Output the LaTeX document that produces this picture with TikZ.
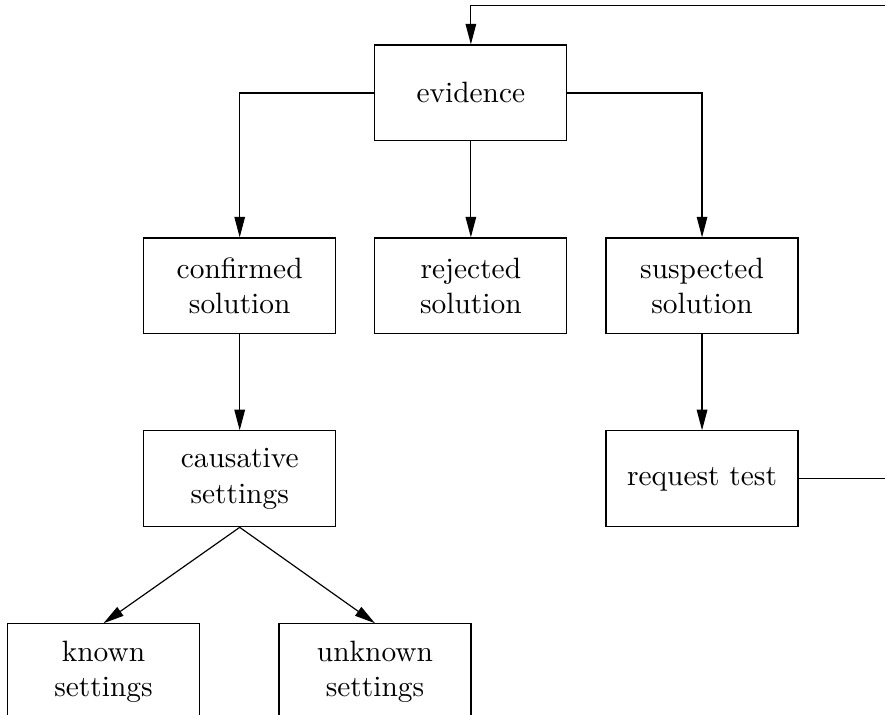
\documentclass[tikz,border=0pt]{standalone}
\usepackage{amsmath, amssymb}
\usepackage{tikz}
\usetikzlibrary{arrows.meta}
\usetikzlibrary{positioning}

\begin{document}
\begin{tikzpicture}[
    box/.style={draw, minimum width=65.3pt, minimum height=32.6pt, align=center, inner sep=2pt},
    arr/.style={-{Triangle[length=7pt,width=3.6pt]}},
    node distance=32.6pt and 12.9pt]
  \clip (-160.1pt,-211.5pt) rectangle (140.8pt,31.6pt);
  \node [box] (ievid) at (0,0) {evidence};
  \node [box] (irej) [below=of ievid] {rejected\\solution};
  \node [box] (iconf) [left=of irej] {confirmed\\solution};
  \node [box] (isusp) [right=of irej] {suspected\\solution};
  \node [box] (icaus) [below=of iconf] {causative\\settings};
  \node [box] (ireq) [below=of isusp] {request test};
  \node [box] (iknown) [below left=32.6pt and -19.4pt of icaus] {known\\settings};
  \node [box] (iunknown) [below right=32.6pt and -19.7pt of icaus] {unknown\\settings};
  \coordinate [right=40pt of ireq] (iturn);
  \coordinate [above=13.3pt of ievid.north] (itop);

  \draw [arr] (ievid) -| (iconf);
  \draw [arr] (ievid) -- (irej);
  \draw [arr] (ievid) -| (isusp);
  \draw [arr] (iconf) -- (icaus);
  \draw [arr] (isusp) -- (ireq);
  \draw [arr] (icaus.south) -- (iknown.north);
  \draw [arr] (icaus.south) -- (iunknown.north);
  \draw [arr] (ireq.east) -- (iturn) |- (itop) -- (ievid.north);
\end{tikzpicture}
\end{document}
